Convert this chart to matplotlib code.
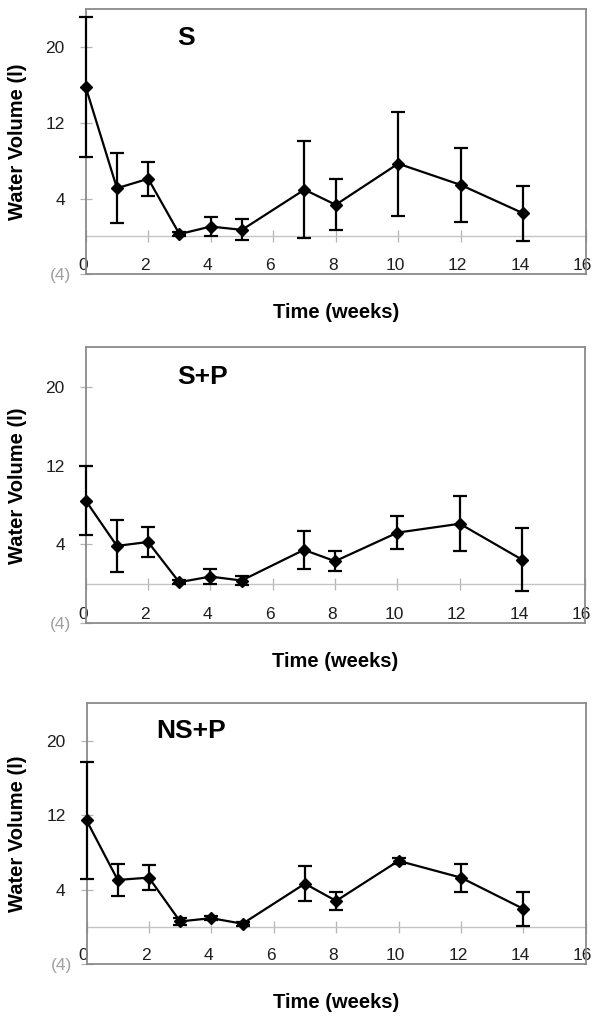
import matplotlib
matplotlib.use('Agg')
import matplotlib.pyplot as plt
import matplotlib.transforms as mtransforms

plt.rcParams['font.family'] = ['Liberation Sans', 'DejaVu Sans']

# ---------------- data ----------------
weeks = [0, 1, 2, 3, 4, 5, 7, 8, 10, 12, 14]
panel_names = ['S', 'S+P', 'NS+P']

s_mean = [15.8, 5.1, 6.1, 0.25, 1.05, 0.7, 4.95, 3.35, 7.7, 5.45, 2.45]
s_err = [7.4, 3.7, 1.8, 0.25, 1.0, 1.1, 5.1, 2.7, 5.5, 3.9, 2.9]

sp_mean = [8.45, 3.85, 4.25, 0.17, 0.74, 0.34, 3.45, 2.3, 5.2, 6.1, 2.45]
sp_err = [3.5, 2.6, 1.5, 0.2, 0.75, 0.5, 1.9, 1.0, 1.65, 2.8, 3.2]

nsp_mean = [11.45, 5.05, 5.3, 0.6, 0.95, 0.35, 4.65, 2.8, 7.1, 5.3, 1.95]
nsp_err = [6.25, 1.75, 1.3, 0.35, 0.2, 0.2, 1.85, 1.0, 0.35, 1.5, 1.85]

x_ticks = [0, 2, 4, 6, 8, 10, 12, 14, 16]
y_ticks = [-4, 4, 12, 20]
y_tick_labels = ['(4)', '4', '12', '20']

means = [s_mean, sp_mean, nsp_mean]
errs = [s_err, sp_err, nsp_err]
title_x = [2.94, 2.94, 2.25]

# ---------------- layout ----------------
W, H = 604, 1021
fig = plt.figure(figsize=(W / 100, H / 100), dpi=100)

# (left, top, right, bottom) in pixels
rects = [(85.7, 9.5, 585.7, 274.3),
         (85.7, 347.3, 584.5, 623.3),
         (86.5, 703.3, 585.7, 964.3)]

spine_col = '#8a8a8a'
tick_col = '#b4b4b4'
text_col = '#1e1e1e'

for i, (l, t, r, b) in enumerate(rects):
    ax = fig.add_axes([l / W, 1 - b / H, (r - l) / W, (b - t) / H])
    ax.set_xlim(0, 16)
    ax.set_ylim(-4, 24)

    ax.errorbar(weeks, means[i], yerr=errs[i], color='black', lw=1.6,
                marker='D', ms=5.8, mfc='black', mec='black',
                elinewidth=1.6, capsize=4.8, capthick=1.6,
                clip_on=False, zorder=5)

    for sp in ax.spines.values():
        sp.set_color(spine_col)
        sp.set_linewidth(1.3)

    # zero line with tick marks
    sec = ax.secondary_xaxis(0, transform=ax.transData)
    sec.spines['bottom'].set_color('#c4c4c4')
    sec.spines['bottom'].set_linewidth(1.0)
    sec.set_xticks(x_ticks)
    sec.tick_params(axis='x', direction='inout', length=8, width=0.9,
                    color=tick_col, labelbottom=False)

    ax.set_xticks(x_ticks)
    ax.set_xticklabels([str(v) for v in x_ticks])
    ax.tick_params(axis='x', length=0, pad=-11.5, labelsize=12.5,
                   labelcolor=text_col)
    off = mtransforms.ScaledTranslation(-3 / 100, 0, fig.dpi_scale_trans)
    for lab in ax.get_xticklabels():
        lab.set_transform(lab.get_transform() + off)

    ax.set_yticks(y_ticks)
    ax.set_yticklabels(y_tick_labels)
    ax.tick_params(axis='y', direction='inout', length=8, width=0.9,
                   color=tick_col, pad=11, labelsize=12.5, labelcolor=text_col)
    ylabs = ax.get_yticklabels()
    ylabs[0].set_color('#a0a0a0')
    off2 = mtransforms.ScaledTranslation(6 / 100, 0, fig.dpi_scale_trans)
    ylabs[0].set_transform(ylabs[0].get_transform() + off2)

    ax.set_xlabel('Time (weeks)', fontsize=14.5, fontweight='bold', color='black')
    ax.xaxis.label.set_va('center')
    hpx = b - t
    ax.xaxis.set_label_coords(0.5, -38 / hpx)

    ax.set_ylabel('Water Volume (l)', fontsize=14.5, fontweight='bold', color='black')
    ax.yaxis.label.set_va('center')
    ax.yaxis.set_label_coords((18 - l) / (r - l), 0.5)

    ax.text(title_x[i], 21, panel_names[i], fontsize=19, fontweight='bold',
            ha='left', va='center', color='black')

fig.savefig('out.png', dpi=100)
